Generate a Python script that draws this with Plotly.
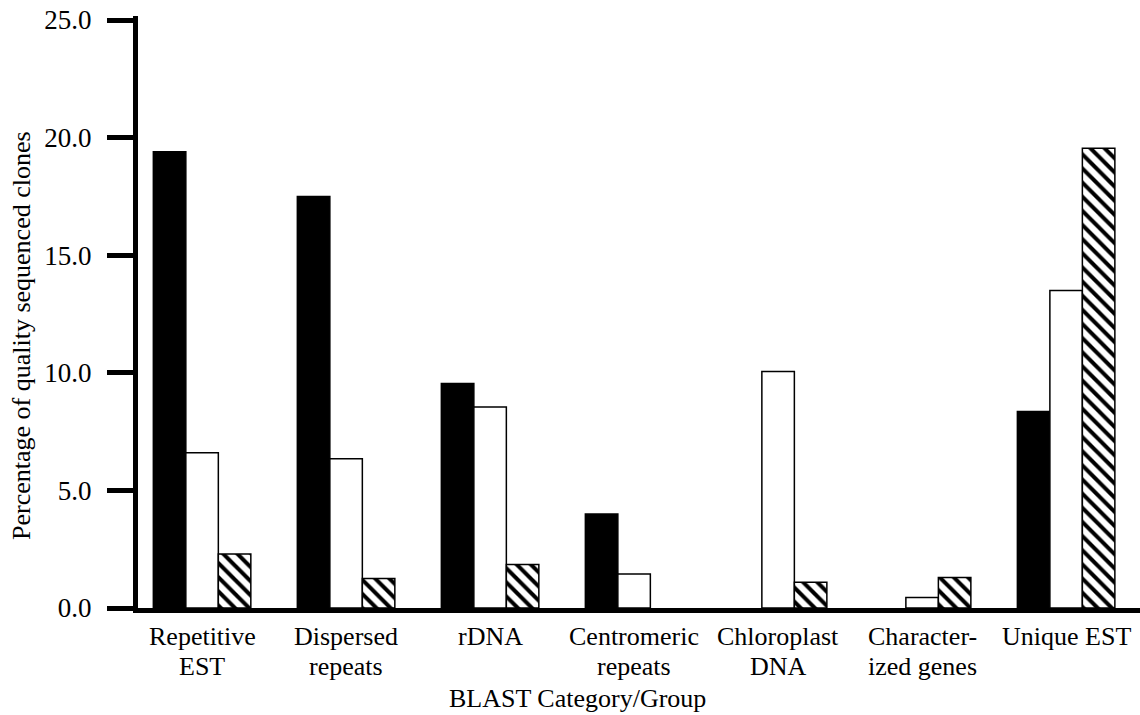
import plotly.graph_objects as go

categories = ["Repetitive<br>EST", "Dispersed<br>repeats", "rDNA", "Centromeric<br>repeats",
              "Chloroplast<br>DNA", "Character-<br>ized genes", "Unique EST"]
series_black = [19.4, 17.5, 9.55, 4.0, 0.0, 0.0, 8.35]
series_white = [6.6, 6.35, 8.55, 1.45, 10.05, 0.45, 13.5]
series_hatched = [2.3, 1.25, 1.85, 0.0, 1.1, 1.3, 19.55]
y_ticks = [0, 5, 10, 15, 20, 25]
y_tick_labels = ["0.0", "5.0", "10.0", "15.0", "20.0", "25.0"]

FONT = "Liberation Serif, Times New Roman, serif"
W, H = 1140, 715
# plot area in page pixels
SCR_L, SCR_R, SCR_T, SCR_B = 138, 1140, 16, 608
L, T = SCR_L, SCR_T
R = W - SCR_R
B = H - SCR_B


def outline(values):
    # no outline for empty bars
    return [1.5 if v > 0 else 0 for v in values]


fig = go.Figure()
fig.add_trace(go.Bar(name="Series 1", x=categories, y=series_black,
                     marker=dict(color="black",
                                 line=dict(color="black", width=outline(series_black)))))
fig.add_trace(go.Bar(name="Series 2", x=categories, y=series_white,
                     marker=dict(color="white",
                                 line=dict(color="black", width=outline(series_white)))))
fig.add_trace(go.Bar(name="Series 3", x=categories, y=series_hatched,
                     marker=dict(color="white",
                                 line=dict(color="black", width=outline(series_hatched)),
                                 pattern=dict(shape="\\", fgcolor="black", bgcolor="white",
                                              fgopacity=1, size=10, solidity=0.4))))

plot_w = SCR_R - SCR_L
plot_h = SCR_B - SCR_T

def px_x(p):
    return (p - SCR_L) / plot_w

def px_y(p):
    return (SCR_B - p) / plot_h

annotations = []
for cat in categories:
    for k, line in enumerate(cat.split("<br>")):
        annotations.append(dict(text=line, xref="x", yref="paper", x=cat,
                                y=px_y(636 + 30 * k), xanchor="center", yanchor="middle",
                                showarrow=False,
                                font=dict(family=FONT, size=26, color="black")))
annotations.append(dict(text="BLAST Category/Group", xref="paper", yref="paper",
                        x=px_x(577), y=px_y(698), xanchor="center", yanchor="middle",
                        showarrow=False, font=dict(family=FONT, size=26, color="black")))
annotations.append(dict(text="Percentage of quality sequenced clones", xref="paper",
                        yref="paper", x=px_x(21), y=px_y(336), xanchor="center",
                        yanchor="middle", textangle=-90, showarrow=False,
                        font=dict(family=FONT, size=26, color="black")))

fig.update_layout(
    width=W, height=H,
    margin=dict(l=L, r=R, t=T, b=B, pad=0, autoexpand=False),
    paper_bgcolor="white", plot_bgcolor="white",
    barmode="group", bargap=0.323, bargroupgap=0,
    showlegend=False,
    font=dict(family=FONT, size=26, color="black"),
    xaxis=dict(type="category", range=[-0.445, 6.513], showline=True, linewidth=5,
               linecolor="black", ticks="", showgrid=False, zeroline=False,
               showticklabels=False, automargin=False),
    yaxis=dict(range=[0, 25.17], tickvals=y_ticks, ticktext=y_tick_labels,
               showline=True, linewidth=5, linecolor="black", ticks="outside",
               ticklen=26, tickwidth=5, tickcolor="black", showgrid=False,
               zeroline=False, tickfont=dict(family=FONT, size=27, color="black"),
               ticklabelstandoff=10, ticklabeloverflow="allow", automargin=False),
    annotations=annotations,
)

# remove the default page margin so the figure sits at the window's top-left corner
fig.write_html("out.html", config={"displayModeBar": False},
               post_script="document.body.style.margin='0';")
